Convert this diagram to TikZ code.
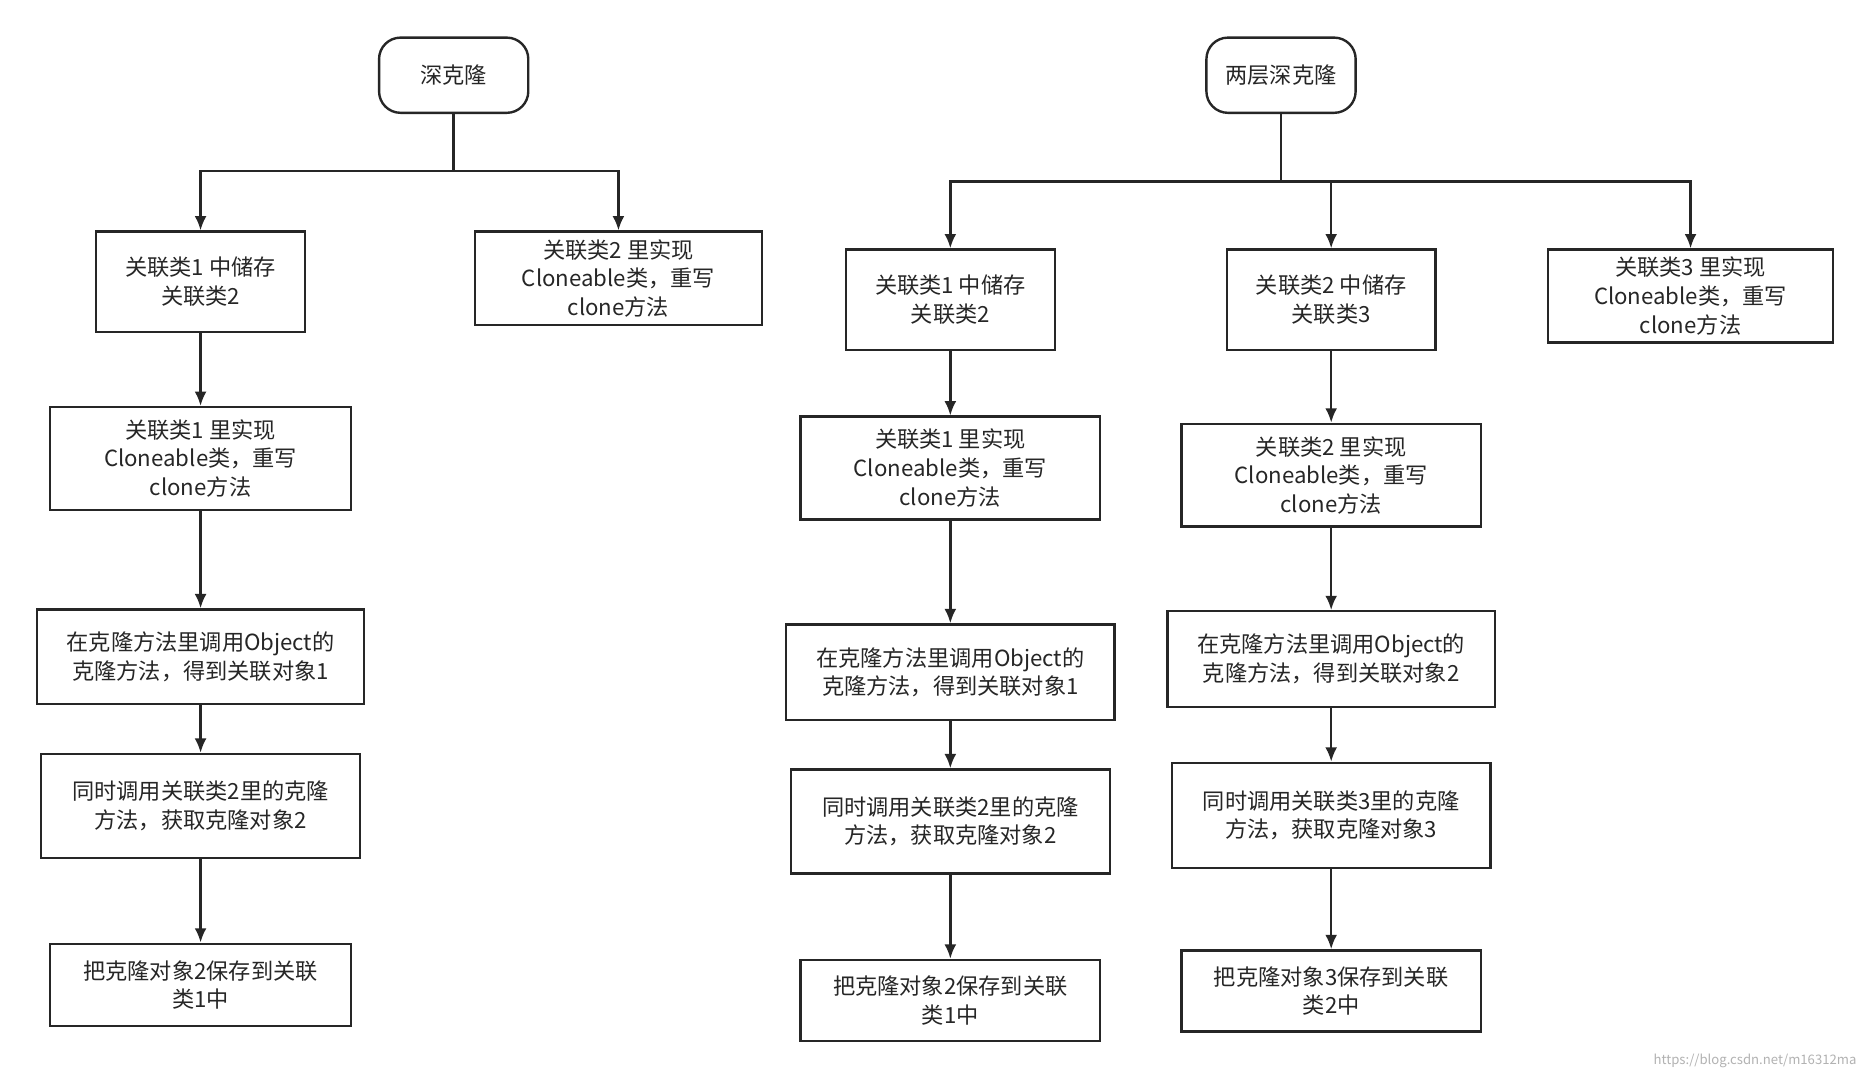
\documentclass[tikz,border=0pt]{standalone}
\usepackage{fontspec}
\setmainfont{Noto Sans CJK SC}
\usetikzlibrary{arrows.meta}
\begin{document}
\begin{tikzpicture}[x=0.5pt,y=-0.5pt,
  box/.style={draw=black!85,line width=1pt,align=center,inner sep=0pt,font=\fontsize{9.3}{12}\selectfont,text=black!85},
  root/.style={box,rounded corners=9pt},
  arr/.style={draw=black!85,line width=1pt,-{Latex[length=6pt,width=5pt]}},
  ln/.style={draw=black!85,line width=1pt}]
\useasboundingbox (0,0) rectangle (1568,905);
\fill[white] (0,0) rectangle (1568,905);
\newcommand{\bx}[7]{\node[#1,minimum width=#4*0.5pt,minimum height=#5*0.5pt] (#2) at (#3) {#6};}
% left
\bx{root}{r1}{380,63}{125}{63}{深克隆}{}
\bx{box}{a1}{168,236}{175}{84}{关联类1 中储存\\关联类2}{}
\bx{box}{a2}{518,233}{240}{78}{关联类2 里实现\\Cloneable类，重写\\clone方法}{}
\bx{box}{b}{168,384}{252}{86}{关联类1 里实现\\Cloneable类，重写\\clone方法}{}
\bx{box}{c}{168,550}{274}{79}{在克隆方法里调用Object的\\克隆方法，得到关联对象1}{}
\bx{box}{d}{168,675}{267}{87}{同时调用关联类2里的克隆\\方法，获取克隆对象2}{}
\bx{box}{e}{168,825}{252}{69}{把克隆对象2保存到关联\\类1中}{}
\coordinate (j1) at (380,143);
\draw[ln] (r1) -- (j1);
\draw[arr] (j1) -| (a1);
\draw[arr] (j1) -| (a2);
\draw[arr] (a1) -- (b);
\draw[arr] (b) -- (c);
\draw[arr] (c) -- (d);
\draw[arr] (d) -- (e);
% right
\bx{root}{r2}{1073,63}{125}{63}{两层深克隆}{}
\bx{box}{f1}{796,251}{175}{84}{关联类1 中储存\\关联类2}{}
\bx{box}{f2}{796,392}{251}{86}{关联类1 里实现\\Cloneable类，重写\\clone方法}{}
\bx{box}{f3}{796,563}{275}{80}{在克隆方法里调用Object的\\克隆方法，得到关联对象1}{}
\bx{box}{f4}{796,688}{267}{87}{同时调用关联类2里的克隆\\方法，获取克隆对象2}{}
\bx{box}{f5}{796,838}{251}{68}{把克隆对象2保存到关联\\类1中}{}
\bx{box}{g1}{1115,251}{175}{84}{关联类2 中储存\\关联类3}{}
\bx{box}{g2}{1115,398}{251}{86}{关联类2 里实现\\Cloneable类，重写\\clone方法}{}
\bx{box}{g3}{1115,552}{274}{80}{在克隆方法里调用Object的\\克隆方法，得到关联对象2}{}
\bx{box}{g4}{1115,683}{267}{88}{同时调用关联类3里的克隆\\方法，获取克隆对象3}{}
\bx{box}{g5}{1115,830}{251}{68}{把克隆对象3保存到关联\\类2中}{}
\bx{box}{h}{1416,248}{239}{78}{关联类3 里实现\\Cloneable类，重写\\clone方法}{}
\coordinate (j2) at (1073,152);
\draw[ln] (r2) -- (j2);
\draw[arr] (j2) -| (f1);
\draw[arr] (j2) -| (g1);
\draw[arr] (j2) -| (h);
\draw[arr] (f1) -- (f2);
\draw[arr] (f2) -- (f3);
\draw[arr] (f3) -- (f4);
\draw[arr] (f4) -- (f5);
\draw[arr] (g1) -- (g2);
\draw[arr] (g2) -- (g3);
\draw[arr] (g3) -- (g4);
\draw[arr] (g4) -- (g5);
\node[anchor=east,text=black!30,font=\fontsize{5.5}{6}\selectfont] (wm) at (1562,889) {https://blog.csdn.net/m16312ma};
\end{tikzpicture}
\end{document}
